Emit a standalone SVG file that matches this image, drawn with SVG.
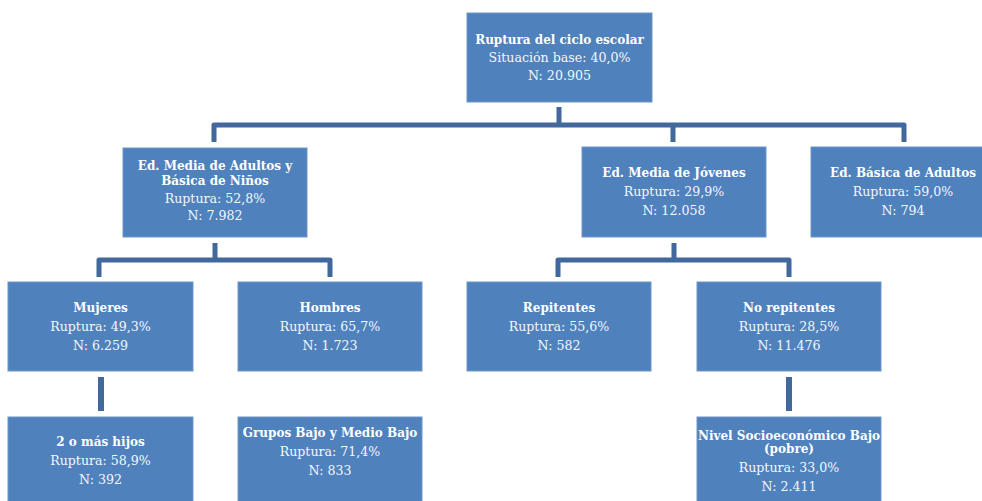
<svg xmlns="http://www.w3.org/2000/svg" width="982" height="501" viewBox="0 0 982 501">
<style>
.box{fill:#4F81BD;stroke:#6E97C8;stroke-width:1}
.c{fill:none;stroke:#41699D;stroke-width:5;stroke-linejoin:round}
.v{fill:none;stroke:#41699D;stroke-width:6}
text{font-family:"DejaVu Serif","Liberation Serif",serif;font-size:12.6px;fill:#F4F7FB;text-anchor:middle}
.b{font-weight:bold;font-size:12px;fill:#FFFFFF}
</style>
<rect width="982" height="501" fill="#FFFFFF"/>
<g id="connectors">
<path class="c" d="M559,107 V125 M214,142 V125 H904 V142 M673,125 V142"/>
<path class="c" d="M215,243 V260 M99,277 V260 H330 V277"/>
<path class="c" d="M674,243 V260 M558,277 V260 H789 V277"/>
<path class="v" d="M101,377 V411 M789,377 V411"/>
</g>
<g id="root">
<rect class="box" x="467" y="13" width="185" height="89"/>
<text class="b" x="559.5" y="44">Ruptura del ciclo escolar</text>
<text x="559.5" y="62">Situación base: 40,0%</text>
<text x="559.5" y="80">N: 20.905</text>
</g>
<g id="n-adultos-ninos">
<rect class="box" x="123" y="148" width="184" height="89"/>
<text class="b" x="215" y="170">Ed. Media de Adultos y</text>
<text class="b" x="215" y="185">Básica de Niños</text>
<text x="215" y="203">Ruptura: 52,8%</text>
<text x="215" y="220">N: 7.982</text>
</g>
<g id="n-jovenes">
<rect class="box" x="582" y="147" width="184" height="90"/>
<text class="b" x="674" y="177">Ed. Media de Jóvenes</text>
<text x="674" y="196">Ruptura: 29,9%</text>
<text x="674" y="215">N: 12.058</text>
</g>
<g id="n-basica-adultos">
<rect class="box" x="811" y="147" width="175" height="90"/>
<text class="b" x="903" y="177">Ed. Básica de Adultos</text>
<text x="903" y="196">Ruptura: 59,0%</text>
<text x="903" y="215">N: 794</text>
</g>
<g id="n-mujeres">
<rect class="box" x="8" y="282" width="185" height="89"/>
<text class="b" x="100.5" y="312">Mujeres</text>
<text x="100.5" y="331">Ruptura: 49,3%</text>
<text x="100.5" y="350">N: 6.259</text>
</g>
<g id="n-hombres">
<rect class="box" x="238" y="282" width="184" height="89"/>
<text class="b" x="330" y="312">Hombres</text>
<text x="330" y="331">Ruptura: 65,7%</text>
<text x="330" y="350">N: 1.723</text>
</g>
<g id="n-repitentes">
<rect class="box" x="467" y="282" width="184" height="89"/>
<text class="b" x="559" y="312">Repitentes</text>
<text x="559" y="331">Ruptura: 55,6%</text>
<text x="559" y="350">N: 582</text>
</g>
<g id="n-no-repitentes">
<rect class="box" x="697" y="282" width="184" height="89"/>
<text class="b" x="789" y="312">No repitentes</text>
<text x="789" y="331">Ruptura: 28,5%</text>
<text x="789" y="350">N: 11.476</text>
</g>
<g id="n-hijos">
<rect class="box" x="8" y="417" width="185" height="90"/>
<text class="b" x="100.5" y="446">2 o más hijos</text>
<text x="100.5" y="465">Ruptura: 58,9%</text>
<text x="100.5" y="484">N: 392</text>
</g>
<g id="n-grupos">
<rect class="box" x="238" y="417" width="184" height="90"/>
<text class="b" x="330" y="437">Grupos Bajo y Medio Bajo</text>
<text x="330" y="456">Ruptura: 71,4%</text>
<text x="330" y="475">N: 833</text>
</g>
<g id="n-nivel">
<rect class="box" x="697" y="417" width="184" height="90"/>
<text class="b" x="789" y="440">Nivel Socioeconómico Bajo</text>
<text class="b" x="789" y="453">(pobre)</text>
<text x="789" y="472">Ruptura: 33,0%</text>
<text x="789" y="491">N: 2.411</text>
</g>
</svg>
